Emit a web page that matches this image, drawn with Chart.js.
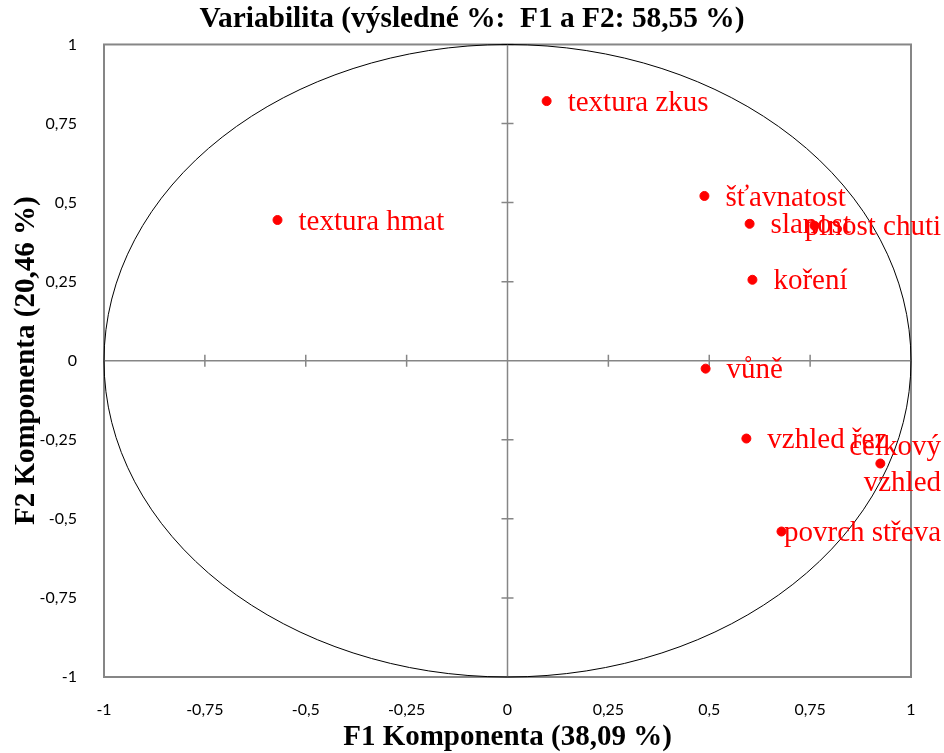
<!DOCTYPE html>
<html>
<head>
<meta charset="utf-8">
<script src="https://cdn.jsdelivr.net/npm/chart.js@4"></script>
<style>
html, body { margin: 0; padding: 0; background: #fff; }
</style>
</head>
<body>
<canvas id="graf" width="944" height="753"></canvas>
<script>
// Data - korelace promennych s F1 a F2
const promenne = ['textura zkus', 'textura hmat', 'šťavnatost', 'slanost', 'plnost chuti', 'koření', 'vůně', 'vzhled řez', ['celkový', 'vzhled'], 'povrch střeva'];
const f1 = [0.097, -0.570, 0.488, 0.600, 0.761, 0.607, 0.491, 0.592, 0.924, 0.679];
const f2 = [0.821, 0.445, 0.521, 0.433, 0.427, 0.256, -0.025, -0.246, -0.325, -0.540];
const hodnotyOsy = [-1, -0.75, -0.5, -0.25, 0, 0.25, 0.5, 0.75, 1];
const popiskyOsy = ['-1', '-0,75', '-0,5', '-0,25', '0', '0,25', '0,5', '0,75', '1'];

const seda = '#868686';
const cervena = '#ff0000';

// Ramecek, osy s carkami a jednotkovy kruh
const kresba = {
    id: 'kresba',
    beforeDatasetsDraw(chart) {
        const {ctx, chartArea: a, scales: {x, y}} = chart;
        const x0 = x.getPixelForValue(0);
        const y0 = y.getPixelForValue(0);
        ctx.save();
        ctx.strokeStyle = seda;
        ctx.lineWidth = 2;
        ctx.strokeRect(a.left, a.top, a.right - a.left, a.bottom - a.top);

        ctx.lineWidth = 1.5;
        ctx.beginPath();
        ctx.moveTo(a.left, y0); ctx.lineTo(a.right, y0);
        ctx.moveTo(x0, a.top); ctx.lineTo(x0, a.bottom);
        hodnotyOsy.forEach(v => {
            const px = x.getPixelForValue(v);
            const py = y.getPixelForValue(v);
            ctx.moveTo(px, y0 - 6); ctx.lineTo(px, y0 + 6);
            ctx.moveTo(x0 - 6, py); ctx.lineTo(x0 + 6, py);
        });
        ctx.stroke();

        ctx.strokeStyle = '#000';
        ctx.lineWidth = 1;
        ctx.beginPath();
        ctx.ellipse(x0, y0, x.getPixelForValue(1) - x0, y0 - y.getPixelForValue(1), 0, 0, 2 * Math.PI);
        ctx.stroke();
        ctx.restore();
    },
    afterDatasetsDraw(chart) {
        const {ctx} = chart;
        const body = chart.getDatasetMeta(0).data;
        ctx.save();
        ctx.font = '29px "Liberation Serif"';
        ctx.fillStyle = cervena;
        ctx.textBaseline = 'middle';
        body.forEach((bod, i) => {
            const radky = [].concat(promenne[i]);
            radky.forEach((t, j) => {
                const w = ctx.measureText(t).width;
                let tx = bod.x + 21;
                if (tx + w > chart.width - 3) tx = chart.width - 3 - w;
                const ty = bod.y + 2 + (j - (radky.length - 1) / 2) * 36;
                ctx.fillText(t, tx, ty);
            });
        });
        ctx.restore();
    }
};

function osa(titulek, vyska) {
    return {
        type: 'linear',
        min: -1,
        max: 1,
        afterBuildTicks: s => { s.ticks = hodnotyOsy.map(v => ({value: v})); },
        afterFit: s => { if (vyska) s.height = vyska; else s.width = 104; },
        grid: {display: false},
        border: {display: false},
        ticks: {
            padding: vyska ? 15 : 19,
            color: '#000',
            font: {family: 'Lato', size: 16},
            callback: v => popiskyOsy[hodnotyOsy.indexOf(v)]
        },
        title: {
            display: true,
            text: titulek,
            color: '#000',
            padding: vyska ? {top: 0, bottom: 1} : {top: 12, bottom: 0},
            font: {family: 'Liberation Serif', size: 29, weight: 'bold', lineHeight: 1}
        }
    };
}

new Chart(document.getElementById('graf'), {
    type: 'scatter',
    data: {
        datasets: [{
            data: f1.map((v, i) => ({x: v, y: f2[i]})),
            backgroundColor: cervena,
            borderColor: cervena,
            pointRadius: 4.5,
            pointHoverRadius: 4.5
        }]
    },
    options: {
        responsive: false,
        animation: false,
        layout: {padding: 0},
        plugins: {
            legend: {display: false},
            tooltip: {enabled: false},
            title: {
                display: true,
                text: 'Variabilita (výsledné %:  F1 a F2: 58,55 %)',
                color: '#000',
                padding: {top: 2, bottom: 7.2},
                font: {family: 'Liberation Serif', size: 29.4, weight: 'bold'}
            }
        },
        scales: {
            x: osa('F1 Komponenta (38,09 %)', 76),
            y: osa('F2 Komponenta (20,46 %)', 0),
            // prazdny pravy okraj
            okraj: {
                type: 'linear',
                position: 'right',
                grid: {display: false},
                border: {display: false},
                ticks: {display: false},
                afterFit: s => { s.width = 33; }
            }
        }
    },
    plugins: [kresba]
});
</script>
</body>
</html>
